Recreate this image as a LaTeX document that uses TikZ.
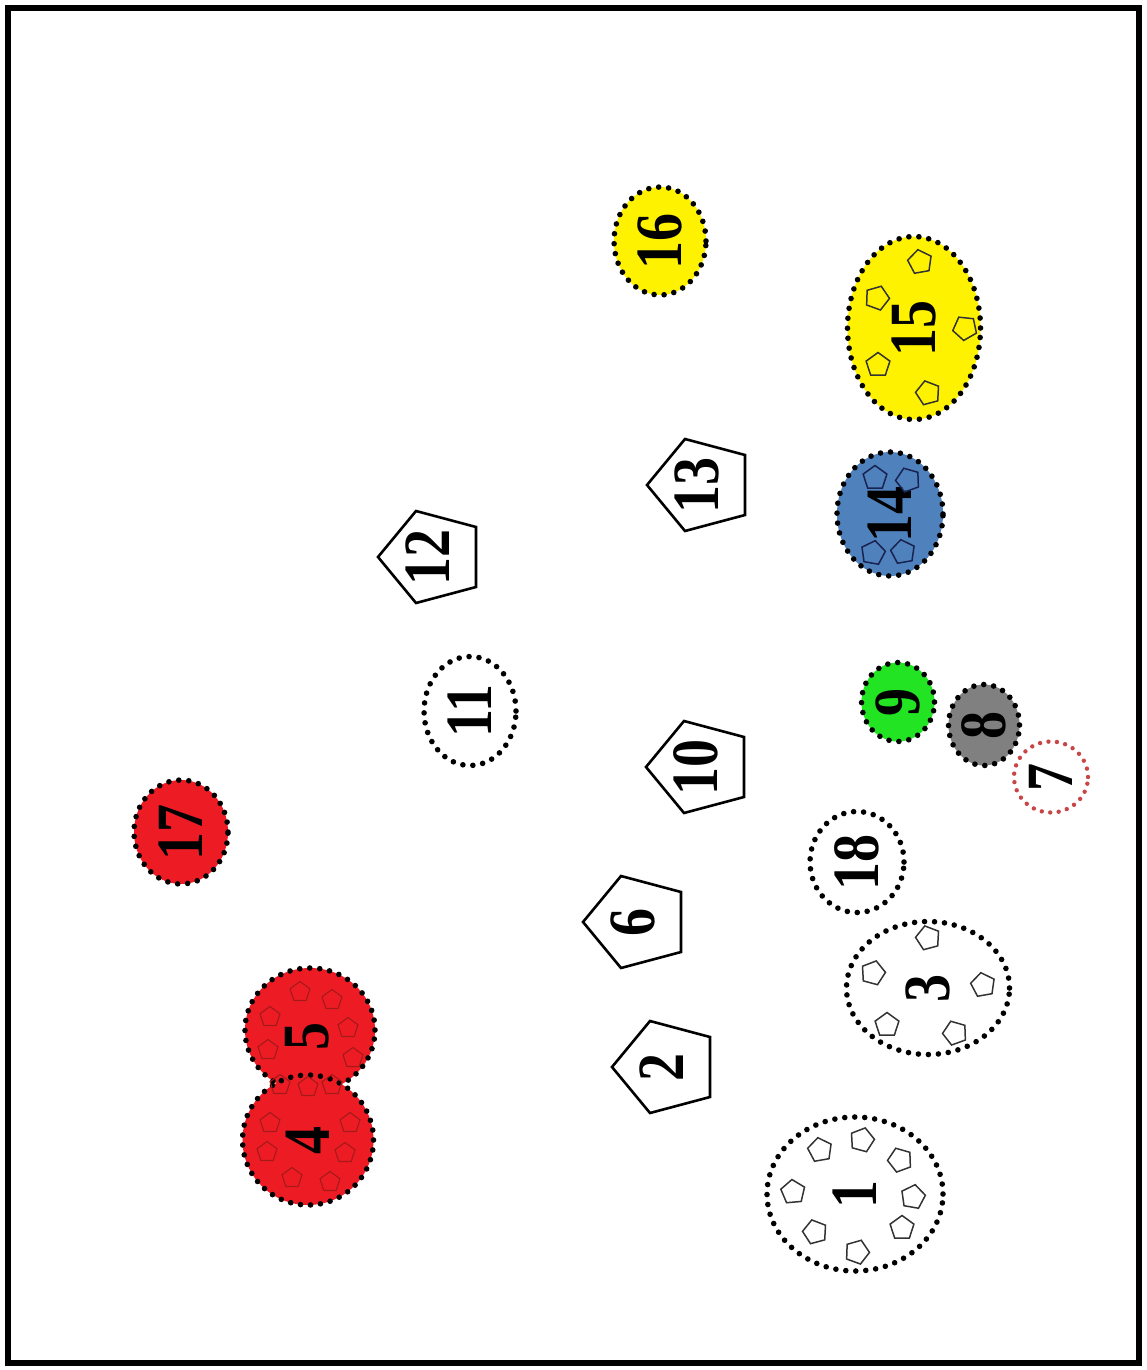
\documentclass[tikz,border=0pt]{standalone}
\usepackage{graphicx}
\usepackage{fontspec}
\setmainfont{Liberation Serif}
\usetikzlibrary{shapes.geometric, calc}
\definecolor{blobRed}{RGB}{237,28,36}
\definecolor{blobYellow}{RGB}{255,242,0}
\definecolor{blobBlue}{RGB}{79,129,189}
\definecolor{blobGreen}{RGB}{34,228,34}
\definecolor{blobGrey}{RGB}{128,128,128}
\definecolor{dotPink}{RGB}{200,70,70}
\definecolor{ringRed}{RGB}{165,25,25}
\definecolor{ringBlue}{RGB}{25,35,80}
% upright-reading labels, turned a quarter
\newcommand{\vnum}[1]{\rotatebox{90}{\scalebox{1}[1.18]{#1}}}
% pentagon outline round a named label node
\newcommand{\pentframe}[1]{%
  \draw[pentline] ($(#1)+(-50,0)$) -- ($(#1)+(-12,-46)$) -- ($(#1)+(48,-30)$)
    -- ($(#1)+(48,30)$) -- ($(#1)+(-12,46)$) -- cycle;}

\begin{document}
\begin{tikzpicture}[x=1pt, y=-1pt,
  blob/.style={ellipse, inner sep=0pt, draw=black, line width=5.6pt,
               dash pattern=on 0pt off 10pt, line cap=round,
               font=\bfseries\fontsize{56}{60}\selectfont},
  ring/.style={blob, fill=none},
  pentlbl/.style={inner sep=0pt, font=\bfseries\fontsize{56}{60}\selectfont},
  pentline/.style={draw=black, line width=2.6pt, line join=miter},
  cell/.style={regular polygon, regular polygon sides=5, minimum size=25pt,
               inner sep=0pt, draw=black!80, line width=1.5pt},
  frame/.style={draw=black, line width=6pt}
]
\useasboundingbox (0,0) rectangle (1146,1370);
\draw[frame] (8,8) rectangle (1139,1363);

% coloured groups
\node[blob, fill=blobYellow, minimum width=92pt, minimum height=108pt] (g16) at (660,241) {\vnum{16}};
\node[blob, fill=blobYellow, minimum width=133pt, minimum height=183pt] (g15) at (914,328) {\vnum{15}};
\node[blob, fill=blobBlue, minimum width=106pt, minimum height=124pt] (g14) at (890,514) {\vnum{14}};
\node[blob, fill=blobGreen, minimum width=73pt, minimum height=79pt] (g9) at (898,702) {\vnum{9}};
\node[blob, fill=blobGrey, minimum width=71pt, minimum height=81pt] (g8) at (984,725) {\vnum{8}};
\node[ring, draw=dotPink, line width=4.4pt, dash pattern=on 0pt off 8.5pt,
      minimum width=74pt, minimum height=71pt] (g7) at (1051,777) {\vnum{7}};
\node[blob, fill=blobRed, minimum width=94pt, minimum height=104pt] (g17) at (181,832) {\vnum{17}};
\node[blob, fill=blobRed, minimum width=130pt, minimum height=124pt] (g5) at (310,1030) {};
\node[blob, fill=blobRed, minimum width=131pt, minimum height=130pt] (g4) at (308,1140) {\vnum{4}};
\node[pentlbl] (t5) at (307,1036) {\vnum{5}};

% open groups
\node[ring, minimum width=92pt, minimum height=109pt] (g11) at (470,711) {\vnum{11}};
\node[ring, minimum width=94pt, minimum height=101pt] (g18) at (857,862) {\vnum{18}};
\node[ring, minimum width=163pt, minimum height=133pt] (g3) at (928,988) {\vnum{3}};
\node[ring, minimum width=176pt, minimum height=154pt] (g1) at (855,1194) {\vnum{1}};

% single pentagons
\node[pentlbl] (p13) at (697,485) {\vnum{13}};
\node[pentlbl] (p12) at (428,557) {\vnum{12}};
\node[pentlbl] (p10) at (696,767) {\vnum{10}};
\node[pentlbl] (p6) at (633,922) {\vnum{6}};
\node[pentlbl] (p2) at (662,1067) {\vnum{2}};
\pentframe{p13}
\pentframe{p12}
\pentframe{p10}
\pentframe{p6}
\pentframe{p2}

% small cells inside the groups
\foreach \x/\y/\r [count=\k] in {920/262/10, 877/298/-20, 965/328/30, 878/365/0, 928/393/15}
  \node[cell] (c15-\k) at (\x,\y) [rotate=\r] {};
\foreach \x/\y/\r [count=\k] in {875/478/0, 908/480/20, 873/553/-10, 903/552/10}
  \node[cell, draw=ringBlue] (c14-\k) at (\x,\y) [rotate=\r] {};
\foreach \x/\y/\r [count=\k] in {928/938/15, 873/973/-15, 983/985/10, 887/1025/0, 955/1033/20}
  \node[cell] (c3-\k) at (\x,\y) [rotate=\r] {};
\foreach \x/\y/\r [count=\k] in {820/1150/10, 862/1140/-15, 900/1160/20, 793/1192/5,
                                 913/1197/-10, 815/1232/15, 902/1228/0, 857/1252/-20}
  \node[cell] (c1-\k) at (\x,\y) [rotate=\r] {};
\foreach \x/\y [count=\k] in {300/992, 332/1000, 270/1017, 348/1028, 268/1050, 353/1058,
                              280/1085, 308/1087, 332/1085, 270/1123, 350/1123,
                              267/1152, 345/1153, 292/1178, 330/1182}
  \node[cell, draw=ringRed, line width=1.1pt, minimum size=21pt] (c45-\k) at (\x,\y) {};
\end{tikzpicture}
\end{document}
